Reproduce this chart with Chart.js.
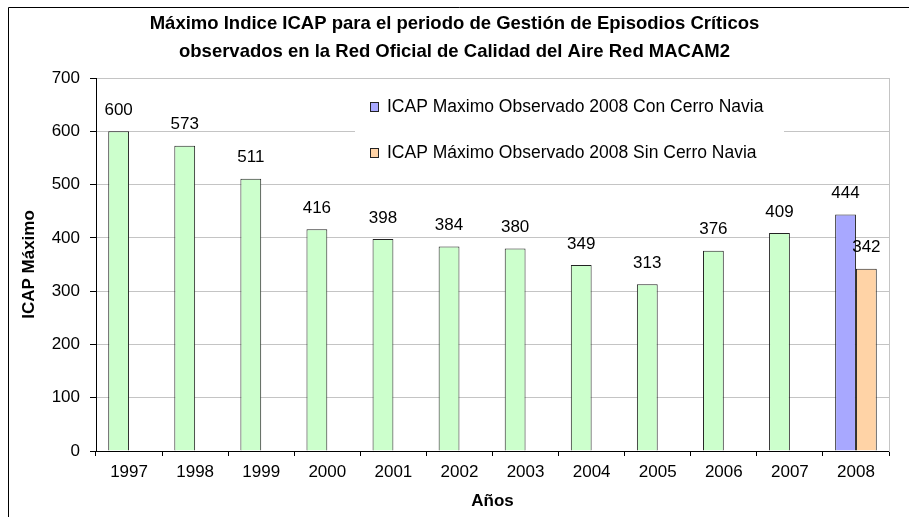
<!DOCTYPE html>
<html>
<head>
<meta charset="utf-8">
<script src="https://cdn.jsdelivr.net/npm/chart.js@4/dist/chart.umd.min.js"></script>
<style>
html,body{margin:0;padding:0;background:#fff;}
canvas{display:block;}
</style>
</head>
<body>
<canvas id="c" width="909" height="517"></canvas>
<script>
// ---- data ----
const years = ['1997','1998','1999','2000','2001','2002','2003','2004','2005','2006','2007','2008'];
const conCerroNavia = [600, 573, 511, 416, 398, 384, 380, 349, 313, 376, 409, 444];
const sinCerroNavia = [null, null, null, null, null, null, null, null, null, null, null, 342];
const seriesNames = ['ICAP Maximo Observado 2008 Con Cerro Navia', 'ICAP Máximo Observado 2008 Sin Cerro Navia'];
const titleLines = ['Máximo Indice ICAP para el periodo de Gestión de Episodios Críticos',
                    'observados en la Red Oficial de Calidad del Aire Red MACAM2'];
const yTitle = 'ICAP Máximo';
const xTitle = 'Años';

// ---- styles ----
const FONT = "'Liberation Sans', Arial, sans-serif";
const GREEN = '#ccffcc', BLUE = '#a8a8ff', ORANGE = '#ffd3a6', EDGE = '#222222';
const legendColors = [BLUE, ORANGE];
const conColors = years.map((y, i) => i === years.length - 1 ? BLUE : GREEN);

const framePlugin = {
  id: 'frame',
  beforeDraw(chart) {
    const ctx = chart.ctx;
    ctx.save();
    ctx.fillStyle = '#fff';
    ctx.fillRect(0, 0, chart.width, chart.height);
    ctx.strokeStyle = '#000';
    ctx.lineWidth = 1;
    ctx.beginPath();
    ctx.moveTo(8.5, chart.height + 2);
    ctx.lineTo(8.5, 7.5);
    ctx.lineTo(chart.width + 2, 7.5);
    ctx.stroke();
    ctx.restore();
  }
};

const valueLabels = {
  id: 'valueLabels',
  afterDatasetsDraw(chart) {
    const ctx = chart.ctx;
    ctx.save();
    ctx.font = '17px ' + FONT;
    ctx.fillStyle = '#000';
    ctx.textAlign = 'center';
    ctx.textBaseline = 'middle';
    chart.data.datasets.forEach((ds, di) => {
      const meta = chart.getDatasetMeta(di);
      meta.data.forEach((el, i) => {
        const v = ds.data[i];
        if (v === null || v === undefined) return;
        ctx.fillText(String(v), el.x, el.y - 21);
      });
    });
    ctx.restore();
  }
};

const boxLegend = {
  id: 'boxLegend',
  afterDraw(chart) {
    const ctx = chart.ctx;
    const a = chart.chartArea;
    const left = a.left + 259, right = a.left + 688, top = a.top + 6, bottom = a.top + 99;
    ctx.save();
    ctx.fillStyle = '#fff';
    ctx.fillRect(left, top, right - left, bottom - top);
    ctx.font = '17.5px ' + FONT;
    ctx.textBaseline = 'middle';
    ctx.textAlign = 'left';
    const rows = [a.top + 29, a.top + 75];
    seriesNames.forEach((name, i) => {
      const cy = rows[i];
      ctx.fillStyle = legendColors[i];
      ctx.fillRect(left + 15, cy - 4.5, 8, 9);
      ctx.strokeStyle = EDGE;
      ctx.lineWidth = 1;
      ctx.strokeRect(left + 15.5, cy - 4.5, 8, 9);
      ctx.fillStyle = '#000';
      ctx.fillText(name, left + 32, cy);
    });
    ctx.restore();
  }
};

new Chart(document.getElementById('c'), {
  type: 'bar',
  data: {
    labels: years,
    datasets: [
      { label: seriesNames[0], data: conCerroNavia, backgroundColor: conColors,
        borderColor: EDGE, borderWidth: 1, borderSkipped: 'bottom' },
      { label: seriesNames[1], data: sinCerroNavia, backgroundColor: ORANGE,
        borderColor: EDGE, borderWidth: 1, borderSkipped: 'bottom' }
    ]
  },
  options: {
    responsive: false,
    animation: false,
    devicePixelRatio: 1,
    layout: { padding: 0 },
    datasets: { bar: { categoryPercentage: 0.63, barPercentage: 1.0 } },
    plugins: {
      legend: { display: false },
      tooltip: { enabled: false },
      title: {
        display: true, text: titleLines, color: '#000',
        font: { family: FONT, size: 18.5, weight: 'bold', lineHeight: 28 / 18.5 },
        padding: { top: 10, bottom: 12 }
      }
    },
    scales: {
      x: {
        offset: true,
        grid: { display: true, offset: true, drawOnChartArea: false, drawTicks: true,
                tickLength: 5, tickColor: '#000', color: '#000' },
        border: { display: true, color: '#000', width: 1 },
        ticks: { color: '#000', font: { family: FONT, size: 17 }, padding: 6, maxRotation: 0, autoSkip: false },
        title: { display: true, text: xTitle, color: '#000',
                 font: { family: FONT, size: 17, weight: 'bold' }, padding: { top: 0, bottom: 5 } },
        afterFit(s) { s.height = 66; }
      },
      y: {
        min: 0, max: 700,
        ticks: { stepSize: 100, color: '#000', font: { family: FONT, size: 17 }, padding: 10 },
        grid: { color: '#c4c4c4', tickColor: '#000', tickLength: 6, lineWidth: 1 },
        border: { display: true, color: '#000', width: 1 },
        title: { display: true, text: yTitle, color: '#000',
                 font: { family: FONT, size: 17, weight: 'bold' }, padding: { top: 19, bottom: 0 } },
        afterFit(s) { s.width = 96; }
      },
      yRight: {
        position: 'right', min: 0, max: 700,
        grid: { display: false },
        ticks: { display: false },
        border: { display: true, color: '#c4c4c4', width: 1 },
        afterFit(s) { s.width = 20; }
      }
    }
  },
  plugins: [framePlugin, valueLabels, boxLegend]
});
</script>
</body>
</html>
